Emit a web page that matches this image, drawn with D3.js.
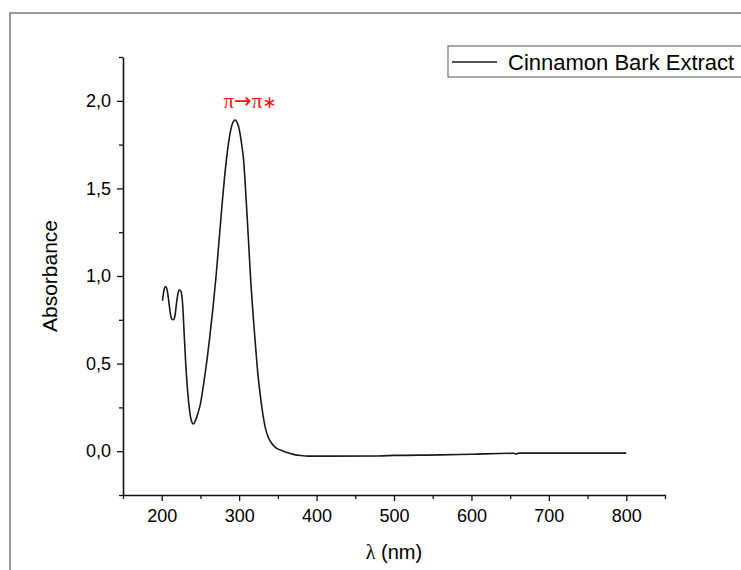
<!DOCTYPE html>
<html>
<head>
<meta charset="utf-8">
<script src="https://cdn.jsdelivr.net/npm/d3@7"></script>
<style>
  body { margin: 0; background: #fff; }
  text { font-family: Arial, "Liberation Sans", sans-serif; fill: #000; }
</style>
</head>
<body>
<div id="chart"></div>
<script>
(function(d3) {
'use strict';

// wavelength (nm) and absorbance
var wavelength = [201, 203, 205, 207, 209, 211, 213, 215, 217, 219, 221, 223, 225, 227, 229, 231, 233, 235, 237, 239,
  241, 244, 247, 250, 253, 256, 259, 262, 266, 270, 274, 278, 282, 286, 290, 293, 295, 297, 300, 303, 306,
  309, 312, 315, 318, 321, 324, 327, 330, 334, 338, 342, 346, 350, 356, 362, 370, 380, 390, 420, 480,
  500, 560, 600, 655, 658, 661, 700, 750, 800];
var absorbance = [0.86, 0.92, 0.94, 0.92, 0.86, 0.79, 0.755, 0.75, 0.77, 0.84, 0.90, 0.92, 0.91, 0.84, 0.67, 0.50, 0.37, 0.27, 0.20, 0.165,
  0.155, 0.18, 0.22, 0.27, 0.35, 0.44, 0.54, 0.65, 0.81, 0.99, 1.20, 1.41, 1.60, 1.75, 1.85, 1.885, 1.89, 1.88, 1.84, 1.76, 1.65,
  1.44, 1.21, 0.97, 0.78, 0.61, 0.45, 0.33, 0.23, 0.13, 0.075, 0.045, 0.025, 0.013, 0.002, -0.008, -0.018, -0.025, -0.028, -0.028, -0.027,
  -0.024, -0.021, -0.017, -0.012, -0.016, -0.011, -0.011, -0.011, -0.011];

var xMajor = [200, 300, 400, 500, 600, 700, 800];
var xMinor = [150, 250, 350, 450, 550, 650, 750, 850];
var yMajor = [0, 0.5, 1.0, 1.5, 2.0];
var yMinor = [-0.25, 0.25, 0.75, 1.25, 1.75, 2.25];

var seriesName = 'Cinnamon Bark Extract';

var width = 741, height = 570;
var margin = {left: 123, right: 76, top: 57, bottom: 75};

var svg = d3.select('#chart')
  .append('svg')
  .attr('width', width)
  .attr('height', height);

// outer frame
svg.append('rect')
  .attr('x', 10).attr('y', 13)
  .attr('width', 800).attr('height', 700)
  .attr('fill', 'none')
  .attr('stroke', '#7a7a7a')
  .attr('stroke-width', 1.5);

var x = d3.scaleLinear().domain([150, 850]).range([margin.left, width - margin.right]);
var y = d3.scaleLinear().domain([-0.25, 2.25]).range([height - margin.bottom, margin.top]);

var fmt = function(d) { return d3.format('.1f')(d).replace('.', ','); };

// minor ticks
svg.append('g')
  .attr('transform', 'translate(0,' + y(-0.25) + ')')
  .call(d3.axisBottom(x).tickValues(xMinor).tickSize(4).tickFormat(''))
  .call(function(g) { g.select('.domain').remove(); });
svg.append('g')
  .attr('transform', 'translate(' + x(150) + ',0)')
  .call(d3.axisLeft(y).tickValues(yMinor).tickSize(4).tickFormat(''))
  .call(function(g) { g.select('.domain').remove(); });

svg.append('g')
  .attr('transform', 'translate(0,' + y(-0.25) + ')')
  .call(d3.axisBottom(x).tickValues(xMajor).tickSize(6).tickSizeOuter(0).tickPadding(8));
svg.append('g')
  .attr('transform', 'translate(' + x(150) + ',0)')
  .call(d3.axisLeft(y).tickValues(yMajor).tickSize(6).tickSizeOuter(0).tickPadding(6).tickFormat(fmt));

svg.selectAll('.tick line').attr('stroke', '#111').attr('stroke-width', 1.3);
svg.selectAll('.domain').attr('stroke', '#111').attr('stroke-width', 1.6);
svg.selectAll('.tick text')
  .style('font-family', 'Arial, "Liberation Sans", sans-serif')
  .style('font-size', '18px')
  .attr('fill', '#111');

// spectrum
var points = wavelength.map(function(w, i) { return [w, absorbance[i]]; });
var line = d3.line()
  .x(function(d) { return x(d[0]); })
  .y(function(d) { return y(d[1]); })
  .curve(d3.curveMonotoneX);

svg.append('path')
  .datum(points)
  .attr('d', line)
  .attr('fill', 'none')
  .attr('stroke', '#1a1a1a')
  .attr('stroke-width', 1.6);

// band annotation
var serif = '"Times New Roman", "Liberation Serif", serif';
var band = svg.append('text')
  .attr('x', x(314))
  .attr('y', y(2.0) + 7)
  .attr('text-anchor', 'middle')
  .style('font-size', '21px')
  .style('fill', '#ff1010');
band.append('tspan').style('font-family', serif).text('π');
band.append('tspan').style('font-family', '"DejaVu Sans", sans-serif').style('font-size', '21px').text('→');
band.append('tspan').style('font-family', serif).text('π');
band.append('tspan').style('font-family', '"DejaVu Sans", sans-serif').style('font-size', '17px').text('∗');

// axis titles
svg.append('text')
  .attr('transform', 'translate(57,' + y(1.0) + ') rotate(-90)')
  .attr('text-anchor', 'middle')
  .style('font-size', '21px')
  .text('Absorbance');

var xt = svg.append('text')
  .attr('x', x(500))
  .attr('y', 559)
  .attr('text-anchor', 'middle')
  .style('font-size', '20px');
xt.append('tspan')
  .style('font-family', serif)
  .text('λ');
xt.append('tspan').text(' (nm)');

// legend
var lg = svg.append('g').attr('transform', 'translate(448,46)');
lg.append('rect')
  .attr('x', 0).attr('y', 0)
  .attr('width', 320).attr('height', 31)
  .attr('fill', '#fff')
  .attr('stroke', '#555')
  .attr('stroke-width', 1);
lg.append('line')
  .attr('x1', 4).attr('x2', 49)
  .attr('y1', 16).attr('y2', 16)
  .attr('stroke', '#1a1a1a')
  .attr('stroke-width', 1.6);
lg.append('text')
  .attr('x', 60).attr('y', 24)
  .style('font-size', '22px')
  .text(seriesName);

})(window.d3);
</script>
</body>
</html>
